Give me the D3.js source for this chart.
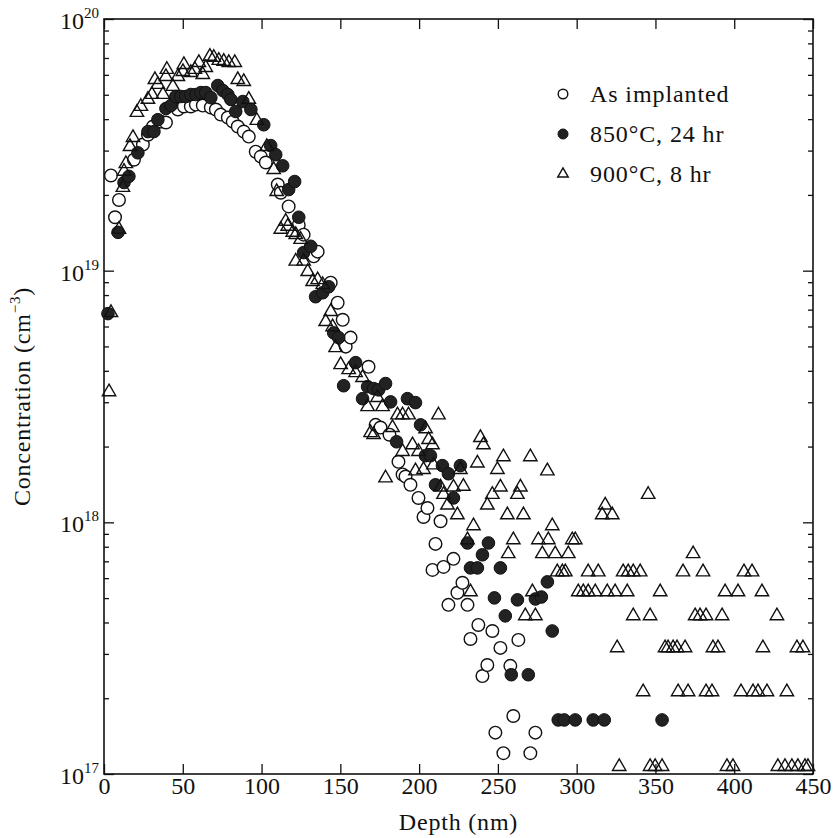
<!DOCTYPE html>
<html>
<head>
<meta charset="utf-8">
<script src="https://cdn.jsdelivr.net/npm/d3@7"></script>
<style>
  body { margin: 0; background: #fff; }
  svg text { font-family: "Liberation Serif", "Times New Roman", serif; fill: #111; }
</style>
</head>
<body>
<div id="chart"></div>
<script>
// depth (nm), concentration (cm^-3)
const asImplanted = [
  [4.4,2.39e19],[7.0,1.63e19],[9.5,1.91e19],[19.0,2.76e19],[24.7,3.17e19],[27.9,3.47e19],[31.1,3.74e19],
  [36.1,3.91e19],[39.3,3.88e19],[46.9,4.37e19],[50.7,4.49e19],[55.1,4.49e19],[58.3,4.57e19],[62.7,4.53e19],
  [67.8,4.45e19],[71.0,4.37e19],[74.1,4.17e19],[78.6,4.06e19],[81.7,3.91e19],[84.9,3.74e19],[88.7,3.57e19],
  [91.9,3.41e19],[96.3,2.97e19],[99.5,2.84e19],[102.7,2.69e19],[110.3,2.20e19],[112.2,2.04e19],[117.2,1.80e19],
  [123.6,1.52e19],[126.7,1.39e19],[133.1,1.14e19],[135.6,1.19e19],[143.9,8.96e18],[148.3,7.46e18],[151.5,6.38e18],
  [153.4,4.99e18],[156.5,5.42e18],[167.9,4.15e18],[172.4,2.44e18],[175.5,2.38e18],[181.2,2.23e18],[186.9,1.74e18],
  [189.5,1.55e18],[191.4,1.52e18],[194.5,1.41e18],[199.6,1.25e18],[202.8,1.05e18],[205.3,1.14e18],[208.5,6.47e17],
  [210.4,8.21e17],[213.6,1.01e18],[215.5,6.65e17],[218.6,4.70e17],[221.8,7.16e17],[224.3,5.25e17],[227.5,5.75e17],
  [230.7,4.70e17],[232.6,3.44e17],[237.6,3.91e17],[240.2,2.45e17],[243.3,2.71e17],[246.5,3.70e17],[248.4,1.46e17],
  [251.6,3.17e17],[253.5,1.21e17],[257.9,2.69e17],[259.8,1.70e17],[263.0,3.41e17],[270.6,1.21e17],[273.8,1.46e17]
];

const annealed850 = [
  [2.5,6.75e18],[8.9,1.42e19],[12.7,2.24e19],[15.8,2.37e19],[21.5,2.94e19],[27.9,3.57e19],[31.7,3.57e19],
  [34.2,3.98e19],[39.3,4.41e19],[42.5,4.53e19],[45.6,4.92e19],[48.8,4.92e19],[52.0,4.92e19],[55.1,5.01e19],
  [58.3,5.01e19],[61.5,5.10e19],[64.6,5.10e19],[67.8,4.87e19],[72.2,5.44e19],[75.4,5.20e19],[78.6,5.01e19],
  [80.5,4.79e19],[83.6,4.29e19],[88.1,4.70e19],[93.2,4.37e19],[101.4,3.80e19],[105.8,3.14e19],[109.0,2.89e19],
  [113.4,2.61e19],[117.2,2.10e19],[121.0,2.26e19],[123.6,1.63e19],[126.7,1.18e19],[131.2,1.25e19],[134.3,7.88e18],
  [138.8,8.17e18],[142.6,8.63e18],[145.8,5.66e18],[148.9,5.42e18],[152.1,3.49e18],[159.7,4.31e18],[164.1,3.10e18],
  [167.3,3.46e18],[171.1,3.40e18],[174.3,3.36e18],[178.7,3.56e18],[181.9,3.01e18],[185.7,2.09e18],[192.6,3.10e18],
  [197.7,2.99e18],[200.9,2.44e18],[204.0,1.84e18],[207.2,1.84e18],[210.4,1.41e18],[214.8,1.68e18],[218.6,1.56e18],
  [221.8,1.25e18],[226.2,1.68e18],[230.7,8.28e17],[232.6,6.59e17],[237.0,6.59e17],[240.2,7.43e17],[244.0,8.28e17],
  [247.8,5.01e17],[251.6,6.59e17],[254.7,4.25e17],[258.5,2.48e17],[262.4,4.92e17],[269.3,2.48e17],[273.8,4.96e17],
  [277.6,5.05e17],[281.4,5.80e17],[284.5,3.70e17],[288.3,1.64e17],[292.1,1.64e17],[299.1,1.64e17],[310.5,1.64e17],
  [317.5,1.64e17],[354.2,1.64e17]
];

const annealed900 = [
  [3.2,3.3e18],[4.4,6.81e18],[9.5,1.46e19],[12.0,2.14e19],[12.7,2.48e19],[13.9,2.66e19],[16.5,3.11e19],
  [18.4,3.38e19],[20.9,4.25e19],[23.4,4.49e19],[27.9,4.79e19],[30.4,5.01e19],[32.3,5.74e19],[34.2,5.49e19],
  [37.4,5.01e19],[39.3,5.90e19],[39.9,6.30e19],[43.7,5.39e19],[46.9,5.90e19],[50.1,6.18e19],[50.7,6.59e19],
  [55.1,6.12e19],[57.7,6.30e19],[60.2,6.71e19],[62.7,6.01e19],[64.6,6.41e19],[67.2,7.10e19],[69.7,7.03e19],
  [72.9,6.84e19],[76.0,6.78e19],[79.2,6.71e19],[83.0,6.71e19],[84.9,5.74e19],[88.7,5.64e19],[91.9,4.79e19],
  [97.0,3.95e19],[103.3,3.11e19],[107.7,2.52e19],[109.6,2.06e19],[112.2,1.46e19],[115.3,1.57e19],[116.6,1.50e19],
  [119.8,1.42e19],[121.7,1.39e19],[124.8,1.33e19],[121.7,1.09e19],[126.7,1.09e19],[129.3,9.91e18],[132.4,9.04e18],
  [135.6,9.20e18],[138.8,8.79e18],[143.9,6.87e18],[140.7,6.27e18],[145.1,5.98e18],[147.0,4.94e18],[150.2,4.23e18],
  [155.3,4.04e18],[159.7,3.93e18],[164.1,3.76e18],[173.6,3.13e18],[167.3,2.88e18],[176.8,2.88e18],[186.3,2.67e18],
  [189.5,2.67e18],[193.3,2.67e18],[212.3,2.67e18],[183.1,2.38e18],[204.1,2.35e18],[169.2,2.27e18],[171.1,2.23e18],
  [206.0,2.13e18],[208.5,2.03e18],[238.9,2.17e18],[240.8,2.03e18],[195.8,2.03e18],[189.5,1.91e18],[199.6,1.91e18],
  [253.5,1.82e18],[270.6,1.82e18],[237.0,1.72e18],[209.1,1.69e18],[249.7,1.62e18],[281.4,1.60e18],[197.7,1.60e18],
  [202.8,1.62e18],[226.2,1.62e18],[178.7,1.50e18],[213.6,1.38e18],[221.8,1.38e18],[228.1,1.39e18],[251.6,1.38e18],
  [264.3,1.38e18],[215.5,1.29e18],[246.5,1.29e18],[262.4,1.29e18],[218.0,1.17e18],[243.3,1.17e18],[318.1,1.17e18],
  [316.2,1.07e18],[322.6,1.07e18],[224.3,1.07e18],[256.0,1.07e18],[266.2,1.07e18],[234.5,9.68e17],[284.5,9.68e17],
  [345.4,1.29e18],[230.7,8.52e17],[259.8,8.52e17],[275.7,8.52e17],[282.0,8.52e17],[297.2,8.52e17],[299.1,8.52e17],
  [256.6,7.50e17],[278.2,7.50e17],[286.4,7.50e17],[294.7,7.50e17],[373.9,7.50e17],
  [287.7,6.35e17],[290.9,6.35e17],[292.8,6.35e17],[307.3,6.35e17],[313.7,6.35e17],[329.5,6.35e17],[332.7,6.35e17],
  [335.9,6.35e17],[340.3,6.35e17],[367.5,6.35e17],[380.2,6.35e17],[406.2,6.35e17],[411.3,6.35e17],
  [232.6,5.29e17],[271.9,5.29e17],[301.0,5.29e17],[304.2,5.29e17],[307.3,5.29e17],[311.8,5.29e17],[319.4,5.29e17],
  [324.4,5.29e17],[332.1,5.29e17],[353.0,5.29e17],[394.2,5.29e17],[402.4,5.29e17],[417.6,5.29e17],
  [267.4,4.25e17],[273.8,4.25e17],[335.9,4.25e17],[346.6,4.25e17],[375.2,4.25e17],[378.3,4.25e17],[382.1,4.25e17],
  [392.3,4.25e17],[427.1,4.25e17],
  [325.7,3.17e17],[356.1,3.17e17],[358.0,3.17e17],[361.2,3.17e17],[363.7,3.17e17],[368.8,3.17e17],[386.5,3.17e17],
  [389.7,3.17e17],[418.2,3.17e17],[439.8,3.17e17],[443.6,3.17e17],
  [342.2,2.12e17],[364.4,2.12e17],[370.7,2.12e17],[382.1,2.12e17],[385.9,2.12e17],[404.3,2.12e17],[411.9,2.12e17],
  [415.1,2.12e17],[420.8,2.12e17],[433.4,2.12e17],
  [327.0,1.07e17],[346.6,1.07e17],[349.8,1.07e17],[354.2,1.07e17],[395.4,1.07e17],[399.2,1.07e17],[427.7,1.07e17],
  [432.2,1.07e17],[436.6,1.07e17],[440.4,1.07e17],[444.9,1.07e17],[446.8,1.07e17]
];

const xTicks = [0, 50, 100, 150, 200, 250, 300, 350, 400, 450];
const yDecades = [1e17, 1e18, 1e19, 1e20];
const legendLabels = ["As implanted", "850°C, 24 hr", "900°C, 8 hr"];

var width = 837, height = 838;
var margin = {top: 19, right: 24, bottom: 64, left: 104};

var svg = d3.select("#chart").append("svg")
  .attr("width", width)
  .attr("height", height);

var x = d3.scaleLinear().domain([0, 450]).range([margin.left, width - margin.right]);
var y = d3.scaleLog().domain([1e17, 1e20]).range([height - margin.bottom, margin.top]);

// log ticks 1..9 x 10^n
var yTicks = [];
yDecades.forEach(function(d, i) {
  if (i < yDecades.length - 1) {
    for (var k = 1; k < 10; k++) yTicks.push(d * k);
  } else {
    yTicks.push(d);
  }
});
function isDecade(v) { return yDecades.indexOf(v) >= 0; }

var x0 = x.range()[0], x1 = x.range()[1];
var yb = y.range()[0], yt = y.range()[1];

// bottom axis
var gB = svg.append("g").attr("transform", "translate(0," + yb + ")")
  .call(d3.axisBottom(x).tickValues(xTicks).tickSize(-10).tickPadding(3).tickFormat(d3.format("d")));
// top axis
var gT = svg.append("g").attr("transform", "translate(0," + yt + ")")
  .call(d3.axisTop(x).tickValues(xTicks).tickSize(-10).tickFormat(""));
// left axis
var gL = svg.append("g").attr("transform", "translate(" + x0 + ",0)")
  .call(d3.axisLeft(y).tickValues(yTicks).tickSize(-5).tickFormat(""));
// right axis
var gR = svg.append("g").attr("transform", "translate(" + x1 + ",0)")
  .call(d3.axisRight(y).tickValues(yTicks).tickSize(-5).tickFormat(""));

[gB, gT, gL, gR].forEach(function(g) {
  g.select(".domain").remove();
  g.selectAll(".tick line").attr("stroke", "#111").attr("stroke-width", 1.3);
});
gL.selectAll(".tick line").filter(isDecade).attr("x2", 10);
gR.selectAll(".tick line").filter(isDecade).attr("x2", -10);

gB.selectAll(".tick text")
  .attr("font-size", 24)
  .style("font-family", "'Liberation Serif', serif")
  .attr("fill", "#111");

// y decade labels 10^n
var yLab = svg.append("g").selectAll("text")
  .data(yDecades)
  .enter().append("text")
  .attr("x", x0 - 5)
  .attr("y", function(d) { return y(d) + 10; })
  .attr("text-anchor", "end")
  .attr("font-size", 24);
yLab.append("tspan").text("10");
yLab.append("tspan")
  .attr("font-size", 15)
  .attr("dy", -11)
  .text(function(d) { return Math.round(Math.log10(d)); });

// frame
svg.append("rect")
  .attr("x", x0).attr("y", yt)
  .attr("width", x1 - x0).attr("height", yb - yt)
  .attr("fill", "none").attr("stroke", "#111").attr("stroke-width", 1.6);

// axis titles
svg.append("text")
  .attr("x", (x0 + x1) / 2)
  .attr("y", 830)
  .attr("text-anchor", "middle")
  .attr("font-size", 24)
  .attr("letter-spacing", 0.8)
  .text("Depth (nm)");

var yt1 = svg.append("text")
  .attr("transform", "translate(30," + ((yt + yb) / 2) + ") rotate(-90)")
  .attr("text-anchor", "middle")
  .attr("font-size", 24)
  .attr("letter-spacing", 0.8);
yt1.append("tspan").text("Concentration (cm");
yt1.append("tspan").attr("font-size", 15).attr("dy", -10).text("\u22123");
yt1.append("tspan").attr("dy", 10).text(")");

// markers
var tri = d3.symbol().type(d3.symbolTriangle).size(78);
var triSmall = d3.symbol().type(d3.symbolTriangle).size(48);

svg.append("g").selectAll("circle")
  .data(asImplanted)
  .enter().append("circle")
  .attr("cx", function(d) { return x(d[0]); })
  .attr("cy", function(d) { return y(d[1]); })
  .attr("r", 6.3)
  .attr("fill", "#fff")
  .attr("stroke", "#111")
  .attr("stroke-width", 1.4);

svg.append("g").selectAll("circle")
  .data(annealed850)
  .enter().append("circle")
  .attr("cx", function(d) { return x(d[0]); })
  .attr("cy", function(d) { return y(d[1]); })
  .attr("r", 6.3)
  .attr("fill", "#222")
  .attr("stroke", "#111")
  .attr("stroke-width", 1);

svg.append("g").selectAll("path")
  .data(annealed900)
  .enter().append("path")
  .attr("d", tri)
  .attr("transform", function(d) { return "translate(" + x(d[0]) + "," + y(d[1]) + ")"; })
  .attr("fill", "none")
  .attr("stroke", "#111")
  .attr("stroke-width", 1.4);

// legend
var legend = svg.append("g").selectAll("g")
  .data(legendLabels)
  .enter().append("g")
  .attr("transform", function(d, i) { return "translate(563," + (94 + i * 40) + ")"; });

legend.append("text")
  .attr("x", 27)
  .attr("y", 8)
  .attr("font-size", 24)
  .attr("letter-spacing", 0.9)
  .text(function(d) { return d; });

legend.filter(function(d, i) { return i === 0; }).append("circle")
  .attr("r", 4.8).attr("fill", "#fff").attr("stroke", "#111").attr("stroke-width", 1.4);
legend.filter(function(d, i) { return i === 1; }).append("circle")
  .attr("r", 5).attr("fill", "#222").attr("stroke", "#111");
legend.filter(function(d, i) { return i === 2; }).append("path")
  .attr("d", triSmall).attr("fill", "none").attr("stroke", "#111").attr("stroke-width", 1.4);
</script>
</body>
</html>
